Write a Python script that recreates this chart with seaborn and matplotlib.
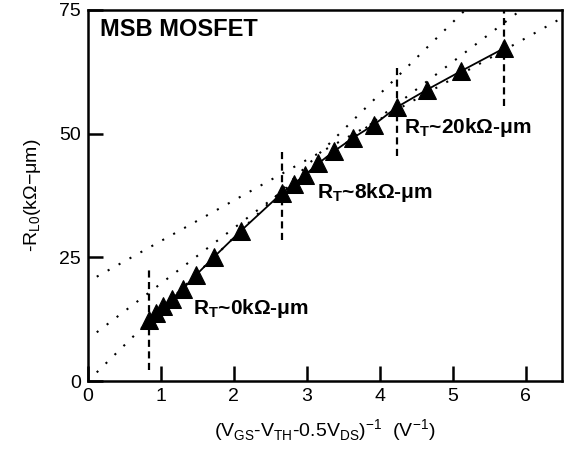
import numpy as np
import pandas as pd
import matplotlib
matplotlib.use("Agg")
import matplotlib.pyplot as plt
import seaborn as sns

# data
x_inv = [0.84, 0.93, 1.03, 1.15, 1.30, 1.48, 1.73, 2.10, 2.66, 2.82, 2.98, 3.16,
         3.37, 3.63, 3.92, 4.24, 4.65, 5.11, 5.71]
r_l0 = [12.3, 13.8, 15.2, 16.6, 18.6, 21.4, 25.1, 30.4, 38.0, 39.8, 41.7, 44.0,
        46.4, 49.1, 51.8, 55.4, 58.9, 62.6, 67.3]

# extrapolation lines: intercept (R_T), slope
fit_intercepts = [0.0, 8.5, 20.1]
fit_slopes = [14.5, 11.2, 8.2]
fit_xstart = 0.12

# vertical dashed markers: x, ymin, ymax
vmark_x = [0.84, 2.66, 4.24, 5.71]
vmark_ymin = [2.2, 28.5, 45.4, 55.5]
vmark_ymax = [22.5, 46.8, 63.3, 76.0]

labels = ["R$_\\mathregular{T}$~0k\u03a9-\u03bcm", "R$_\\mathregular{T}$~8k\u03a9-\u03bcm",
          "R$_\\mathregular{T}$~20k\u03a9-\u03bcm"]
label_x = [1.44, 3.14, 4.33]
label_y = [13.6, 37.0, 50.2]

xticks = [0, 1, 2, 3, 4, 5, 6]
yticks = [0, 25, 50, 75]

sns.set_style("ticks", {"axes.edgecolor": "black", "text.color": "black",
                        "xtick.color": "black", "ytick.color": "black",
                        "axes.labelcolor": "black"})
plt.rcParams['font.family'] = ['Liberation Sans', 'DejaVu Sans']
plt.rcParams['mathtext.fontset'] = 'custom'
plt.rcParams['mathtext.rm'] = 'Liberation Sans'
plt.rcParams['mathtext.bf'] = 'Liberation Sans:bold'

fig = plt.figure(figsize=(5.68, 4.55), dpi=100)
ax = fig.add_axes([88/568, 1 - 381/455, (562-88)/568, (381-10)/455])

df = pd.DataFrame({"x": x_inv, "y": r_l0})

# dotted extrapolation lines
for b, m in zip(fit_intercepts, fit_slopes):
    xs = np.array([fit_xstart, 6.6])
    ax.plot(xs, b + m * xs, color="black", lw=1.5, ls=(0, (1, 5)), zorder=1)

# vertical dashed markers
for xv, y0, y1 in zip(vmark_x, vmark_ymin, vmark_ymax):
    ax.plot([xv, xv], [y0, y1], color="black", lw=1.6, ls=(0, (3.2, 2.0)), zorder=2)

sns.lineplot(data=df, x="x", y="y", ax=ax, color="black", lw=1.3, marker="^",
             markersize=13, markeredgecolor="black", markerfacecolor="black",
             sort=False, zorder=3)

ax.text(0.16, 73.4, "MSB MOSFET", fontsize=17, fontweight="bold", va="top", ha="left")
for t, lx, ly in zip(labels, label_x, label_y):
    ax.text(lx, ly, t, fontsize=15, fontweight="bold", ha="left", va="baseline")

ax.set_xlim(0, 6.5)
ax.set_ylim(0, 75)
ax.set_xticks(xticks)
ax.set_yticks(yticks)
ax.set_xticklabels([str(v) for v in xticks], fontsize=14)
ax.set_yticklabels([str(v) for v in yticks], fontsize=14)
ax.tick_params(direction="in", length=11, width=1.8, pad=5)
for s in ax.spines.values():
    s.set_linewidth(1.8)
    s.set_visible(True)

ax.set_xlabel("(V$_\\mathregular{GS}$-V$_\\mathregular{TH}$-0.5V$_\\mathregular{DS}$)$^\\mathregular{-1}$  (V$^\\mathregular{ -1}$)",
              fontsize=14, labelpad=9)
ax.set_ylabel("-R$_\\mathregular{L0}$(k\u03a9\u2212\u03bcm)", fontsize=14, labelpad=12)

fig.savefig("out.png", dpi=100)
